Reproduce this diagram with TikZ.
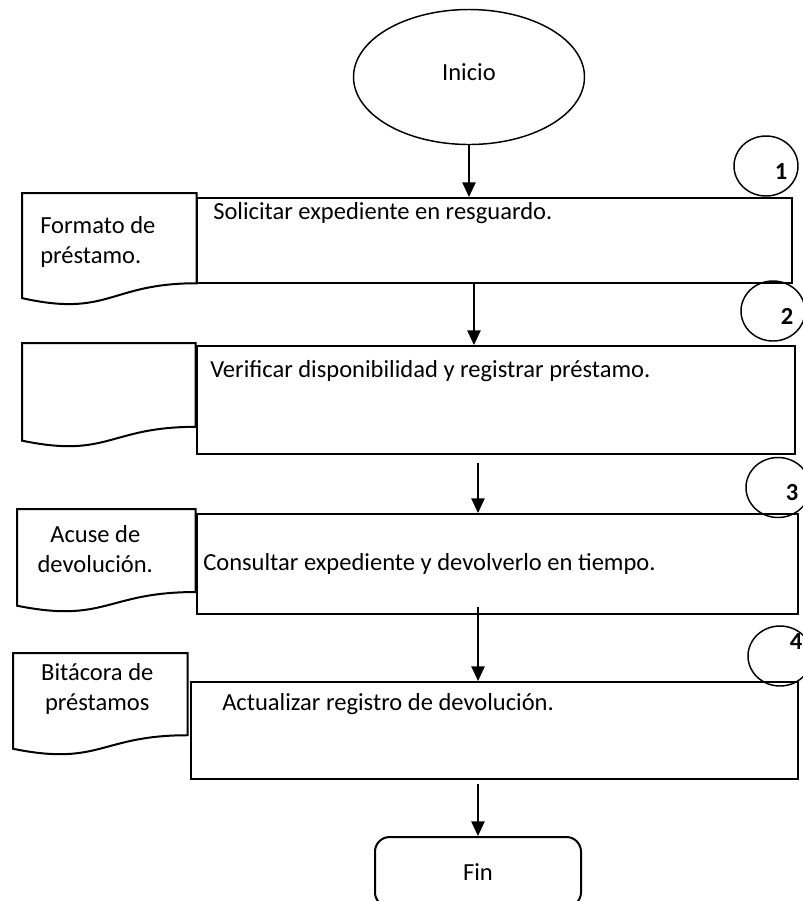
\documentclass[tikz,border=0pt]{standalone}
\usepackage{fontspec}
\setmainfont{Carlito}
\usepackage{tikz}
\usetikzlibrary{shapes,arrows.meta,positioning,calc}

% outline of a document symbol over an empty node
\newcommand{\docoutline}[1]{%
  \draw[docline] (#1.north west) -- (#1.north east)
    -- ($(#1.north east)!0.802!(#1.south east)$)
    .. controls ($(#1.north)!0.802!(#1.south)$) and ($(#1.north)!1.107!(#1.south)$)
    .. ($(#1.north west)!0.934!(#1.south west)$) -- cycle;}

\begin{document}
\begin{tikzpicture}[
    x=0.75pt, y=-0.75pt,
    every node/.style={font=\fontsize{18.4}{22.5}\selectfont},
    terminal/.style={ellipse, draw, line width=1.1pt, minimum width=173.25pt, minimum height=101.25pt},
    stepnum/.style={ellipse, draw, line width=1.1pt, minimum width=48pt, minimum height=45pt},
    numlabel/.style={font=\fontsize{18.4}{22.5}\selectfont\bfseries, inner sep=0pt},
    process/.style={rectangle, draw, line width=1.5pt, anchor=north west, inner sep=0pt},
    document/.style={rectangle, anchor=north west, inner sep=0pt},
    docline/.style={line width=1.5pt},
    boxtext/.style={anchor=base west, inner sep=0pt},
    doctext/.style={anchor=base, align=center, inner sep=0pt},
    endbox/.style={rectangle, rounded corners=11pt, draw, line width=1.5pt, minimum width=154.5pt, minimum height=52.5pt},
    arrow/.style={-{Triangle[length=11pt,width=10pt]}, line width=1.1pt}
]
\useasboundingbox (0,0) rectangle (803,901);
\clip (0,0) rectangle (803,901);

% Start
\node[terminal, text depth=8pt] (inicio) at (469,77) {Inicio};

% Process boxes
\node[process, minimum width=446.25pt, minimum height=63.75pt] (b1) at (196,197) {};
\node[process, minimum width=448.5pt, minimum height=81pt] (b2) at (196,345) {};
\node[process, minimum width=450.75pt, minimum height=75pt] (b3) at (196,513) {};
\node[process, minimum width=455.25pt, minimum height=72.75pt] (b4) at (190,681) {};

\node[boxtext] (t1) at ([xshift=12.75pt,yshift=-16.5pt]b1.north west) {Solicitar expediente en resguardo.};
\node[boxtext] (t2) at ([xshift=10.5pt,yshift=-24pt]b2.north west) {Verificar disponibilidad y registrar préstamo.};
\node[boxtext] (t3) at ([xshift=5.25pt,yshift=-42.75pt]b3.north west) {Consultar expediente y devolverlo en tiempo.};
\node[boxtext] (t4) at ([xshift=24pt,yshift=-21.75pt]b4.north west) {Actualizar registro de devolución.};

% Documents
\node[document, minimum width=130.5pt, minimum height=84pt] (d1) at (22,193) {};
\node[document, minimum width=129.75pt, minimum height=78pt] (d2) at (22,343) {};
\node[document, minimum width=133.5pt, minimum height=77.25pt] (d3) at (17,509) {};
\node[document, minimum width=130.5pt, minimum height=76.5pt] (d4) at (13,653) {};
\docoutline{d1}
\docoutline{d2}
\docoutline{d3}
\docoutline{d4}

\node[doctext, anchor=base west, align=left] (dt1) at ([xshift=13.5pt,yshift=-52.5pt]d1.north west) {Formato de\\préstamo.};
\node[doctext] (dt3) at ([xshift=-8.25pt,yshift=-47.25pt]d3.north) {Acuse de\\devolución.};
\node[doctext] (dt4) at ([xshift=-2.25pt,yshift=-42.75pt]d4.north) {Bitácora de\\préstamos};

% Step numbers
\node[stepnum] (c1) at (766,166) {};
\node[stepnum] (c2) at (773,311) {};
\node[stepnum] (c3) at (778,487.5) {};
\node[stepnum] (c4) at (780,656) {};
\node[numlabel] (n1) at ([xshift=11.25pt,yshift=-4.5pt]c1.center) {1};
\node[numlabel] (n2) at ([xshift=10.5pt,yshift=-3.75pt]c2.center) {2};
\node[numlabel] (n3) at ([xshift=10.5pt,yshift=-3.4pt]c3.center) {3};
\node[numlabel] (n4) at ([xshift=12pt,yshift=10.5pt]c4.center) {4};

% End
\node[endbox] (fin) at (478,872) {Fin};

% Arrows
\draw[arrow] (inicio.south) -- (inicio.south |- b1.north);
\coordinate (s2) at ([xshift=-15.4pt]b1.south);
\draw[arrow] (s2) -- (s2 |- b2.north);
\coordinate (s3) at ([xshift=-13.5pt,yshift=-6pt]b2.south);
\draw[arrow] (s3) -- (s3 |- b3.north);
\coordinate (s4) at ([xshift=-14.6pt,yshift=6pt]b3.south);
\draw[arrow] (s4) -- (s4 |- b4.north);
\coordinate (s5) at ([xshift=-12.4pt,yshift=-3pt]b4.south);
\draw[arrow] (s5) -- (s5 |- fin.north);

\end{tikzpicture}
\end{document}
